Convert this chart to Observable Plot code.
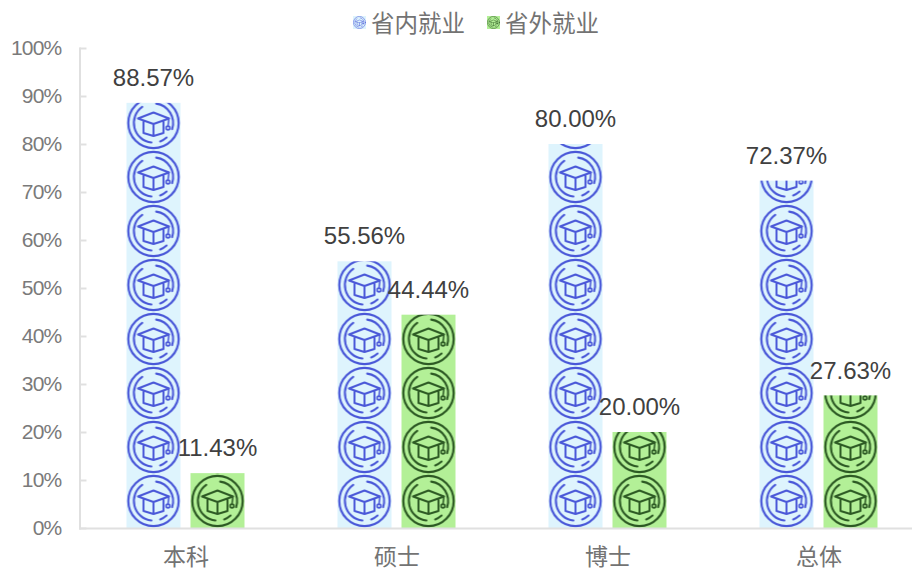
<!DOCTYPE html>
<html>
<head>
<meta charset="utf-8">
<script src="https://cdn.jsdelivr.net/npm/d3@7"></script>
<script src="https://cdn.jsdelivr.net/npm/@observablehq/plot@0.6"></script>
<style>
html,body{margin:0;padding:0;background:#fff;overflow:hidden}
body{width:912px;height:568px;position:relative;font-family:"Liberation Sans","Noto Sans CJK SC",sans-serif}
#legend{position:absolute;z-index:1;left:0;top:0;height:38px;box-sizing:border-box;padding-left:353px;padding-top:6px;display:flex;align-items:center;font-family:"Noto Sans CJK SC",sans-serif;font-size:23.5px;color:#737373}
#legend .sw{width:13px;height:13px;margin-right:5px;display:block}
#legend .lb{width:94px;line-height:30px;white-space:nowrap;margin-right:22px}
svg{display:block}
[aria-label="y-axis tick label"] text{letter-spacing:-.8px}
</style>
</head>
<body>
<div id="legend"></div>
<div id="chart"></div>
<script>
const categories = ["本科", "硕士", "博士", "总体"];
const seriesNames = ["省内就业", "省外就业"];
const inProvince = [88.57, 55.56, 80.00, 72.37];
const outProvince = [11.43, 44.44, 20.00, 27.63];
const yTicks = [0, 10, 20, 30, 40, 50, 60, 70, 80, 90, 100];
const stroke = {"省内就业": "#4a58d8", "省外就业": "#2d5a24"};
const back = {"省内就业": "#def4fd", "省外就业": "#b3f097"};
const insets = {"省内就业": [46.5, 110.5], "省外就业": [110.5, 46.5]};
const labelShift = {"省内就业": -32.5, "省外就业": 31.5};

const rows = categories.flatMap((c, i) => [
  {category: c, series: seriesNames[0], value: inProvince[i], id: "tile-" + i + "-0"},
  {category: c, series: seriesNames[1], value: outProvince[i], id: "tile-" + i + "-1"}
]);

function arc(r, a0, a1) {
  const p = a => [27 + r * Math.sin(a * Math.PI / 180), 27 - r * Math.cos(a * Math.PI / 180)];
  const [x0, y0] = p(a0), [x1, y1] = p(a1);
  return `M${x0.toFixed(2)} ${y0.toFixed(2)}A${r} ${r} 0 ${a1 - a0 > 180 ? 1 : 0} 1 ${x1.toFixed(2)} ${y1.toFixed(2)}`;
}
function icon(color) {
  return `<g fill="none" stroke="${color}" stroke-linecap="round" stroke-linejoin="round">
    <circle cx="27" cy="27" r="25.2" stroke-width="2.2"/>
    <path stroke-width="2.1" d="${arc(19.6, 8, 108)}${arc(19.6, 138, 160)}${arc(19.6, 186, 325)}"/>
    <path stroke-width="2" d="M11.5 22.5L27 16.5L42.5 22.5L27 28Z"/>
    <path stroke-width="2" d="M17 25.5V37L27 40L37 37V25.5M27 28V40"/>
    <path stroke-width="1.6" d="M42.5 22.5L41.5 30"/>
    <circle cx="41.5" cy="32" r="1.9" stroke-width="1.7"/>
  </g>`;
}

const chart = Plot.plot({
  width: 912,
  height: 568,
  marginLeft: 79.5,
  marginRight: 0,
  marginTop: 48,
  marginBottom: 40,
  style: {fontFamily: '"Liberation Sans","Noto Sans CJK SC",sans-serif', background: "#fff"},
  x: {domain: categories, range: [79.5, 923.5], padding: 0, label: null},
  y: {domain: [0, 100], label: null},
  marks: [
    Plot.barY(rows, {
      x: "category", y: "value",
      fill: {value: d => `url(#${d.id})`, scale: null},
      insetLeft: 46.5, insetRight: 110.5,
      filter: d => d.series === seriesNames[0]
    }),
    Plot.barY(rows, {
      x: "category", y: "value",
      fill: {value: d => `url(#${d.id})`, scale: null},
      insetLeft: 110.5, insetRight: 46.5,
      filter: d => d.series === seriesNames[1]
    }),
    Plot.frame({anchor: "left", stroke: "#e0e0e0", strokeWidth: 2, strokeOpacity: 1}),
    Plot.frame({anchor: "bottom", stroke: "#e0e0e0", strokeWidth: 2, strokeOpacity: 1}),
    Plot.ruleY(yTicks, {stroke: "#e0e0e0", strokeWidth: 2, insetRight: 912 - 79.5 - 7}),
    Plot.axisY({
      anchor: "left", ticks: yTicks, tickSize: 0, tickPadding: 18.5,
      tickFormat: d => d + "%", fontSize: 21, color: "#7a7a7a", label: null
    }),
    Plot.axisX({
      anchor: "bottom", tickSize: 0, tickPadding: 20,
      fontSize: 23, color: "#737373", label: null,
      fontFamily: '"Noto Sans CJK SC",sans-serif'
    }),
    Plot.text(rows, {
      x: "category", y: "value",
      text: d => d.value.toFixed(2) + "%",
      dy: -25,
      fontSize: 24, fill: "#404040", lineAnchor: "middle",
      filter: d => d.series === seriesNames[0],
      dx: labelShift[seriesNames[0]]
    }),
    Plot.text(rows, {
      x: "category", y: "value",
      text: d => d.value.toFixed(2) + "%",
      dy: -25,
      fontSize: 24, fill: "#404040", lineAnchor: "middle",
      filter: d => d.series === seriesNames[1],
      dx: labelShift[seriesNames[1]]
    })
  ]
});

// One repeating icon tile per bar, anchored to that bar's left edge and the baseline.
const xs = chart.scale("x"), ys = chart.scale("y");
const defs = rows.map(r => {
  const left = xs.apply(r.category) + insets[r.series][0];
  return `<pattern id="${r.id}" patternUnits="userSpaceOnUse" x="${left}" y="${ys.apply(0)}" width="54" height="54">
    <rect width="54" height="54" fill="${back[r.series]}"/>${icon(stroke[r.series])}</pattern>`;
}).join("");
const holder = document.createElementNS("http://www.w3.org/2000/svg", "defs");
holder.innerHTML = defs;
chart.insertBefore(holder, chart.firstChild);
document.getElementById("chart").appendChild(chart);

document.getElementById("legend").innerHTML = seriesNames.map(s =>
  `<svg class="sw" viewBox="0 0 54 54"><rect width="54" height="54" fill="${back[s]}"/>${icon(stroke[s])}</svg><span class="lb">${s}</span>`
).join("");
</script>
</body>
</html>
